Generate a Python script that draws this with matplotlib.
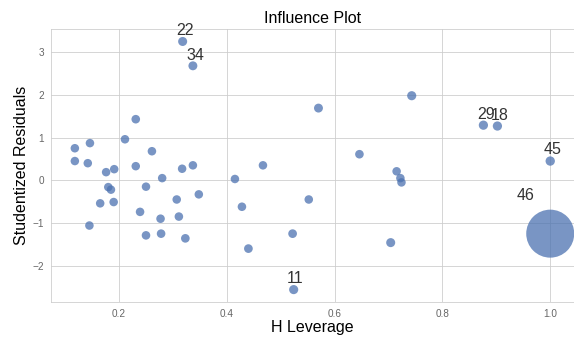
import numpy as np
import matplotlib
matplotlib.use('Agg')
import matplotlib.pyplot as plt
import seaborn as sns

# leverage (hat diag) and studentized residuals, index order = observation id
leverage = [0.231, 0.211, 0.118, 0.146, 0.261, 0.118, 0.142, 0.231, 0.317, 0.337,
            0.467, 0.524, 0.176, 0.191, 0.280, 0.415, 0.180, 0.185, 0.902, 0.250,
            0.165, 0.190, 0.318, 0.307, 0.348, 0.428, 0.239, 0.277, 0.311, 0.876,
            0.145, 0.250, 0.278, 0.323, 0.337, 0.440, 0.743, 0.570, 0.646, 0.715,
            0.722, 0.724, 0.552, 0.522, 0.704, 1.000, 1.000]
resid = [1.43, 0.96, 0.75, 0.87, 0.68, 0.45, 0.40, 0.33, 0.27, 0.35,
         0.35, -2.56, 0.19, 0.26, 0.05, 0.03, -0.16, -0.22, 1.27, -0.15,
         -0.54, -0.51, 3.25, -0.45, -0.33, -0.62, -0.74, -0.90, -0.85, 1.29,
         -1.06, -1.29, -1.25, -1.36, 2.68, -1.60, 1.98, 1.69, 0.61, 0.21,
         0.05, -0.05, -0.45, -1.25, -1.46, 0.45, -1.25]
# cook's distance (only used for marker size); obs 46 dominates
cooks = [0.05, 0.02, 0.01, 0.01, 0.02, 0.00, 0.00, 0.00, 0.00, 0.01,
         0.01, 0.30, 0.00, 0.00, 0.00, 0.00, 0.00, 0.00, 0.35, 0.00,
         0.01, 0.01, 0.25, 0.01, 0.01, 0.03, 0.02, 0.03, 0.03, 0.35,
         0.02, 0.04, 0.05, 0.07, 0.20, 0.10, 0.30, 0.20, 0.05, 0.01,
         0.00, 0.00, 0.02, 0.10, 0.25, 0.40, 60.0]
labeled = [11, 18, 22, 29, 34, 45, 46]

sns.set_style("whitegrid")
plt.rcParams['font.family'] = ['Liberation Sans', 'DejaVu Sans']

fig = plt.figure(figsize=(574 / 72, 338 / 72), dpi=72)
ax = fig.add_axes([0.089, 0.1065, 0.911, 0.8075])

# scale marker area like statsmodels influence_plot (size=48)
c = np.array(cooks)
psize = (c - c.min()) * (48 ** 2 - 8.5 ** 2) / np.ptp(c) + 8.5 ** 2

ax.scatter(leverage, resid, s=psize, alpha=0.75, color='#4C72B0', linewidths=0)

for i in labeled:
    off = np.sqrt(psize[i] / 2)
    ax.annotate(str(i), (leverage[i], resid[i]), xytext=(-off, off),
                textcoords='offset points', size=16, color='#333333')

font = {'fontsize': 16, 'color': 'black'}
ax.set_ylabel('Studentized Residuals', **font)
ax.set_xlabel('H Leverage', **font, labelpad=1)
ax.set_title('Influence Plot', **font)
ax.tick_params(labelsize=10, labelcolor='0.4')

fig.savefig('out.png', dpi=72)
